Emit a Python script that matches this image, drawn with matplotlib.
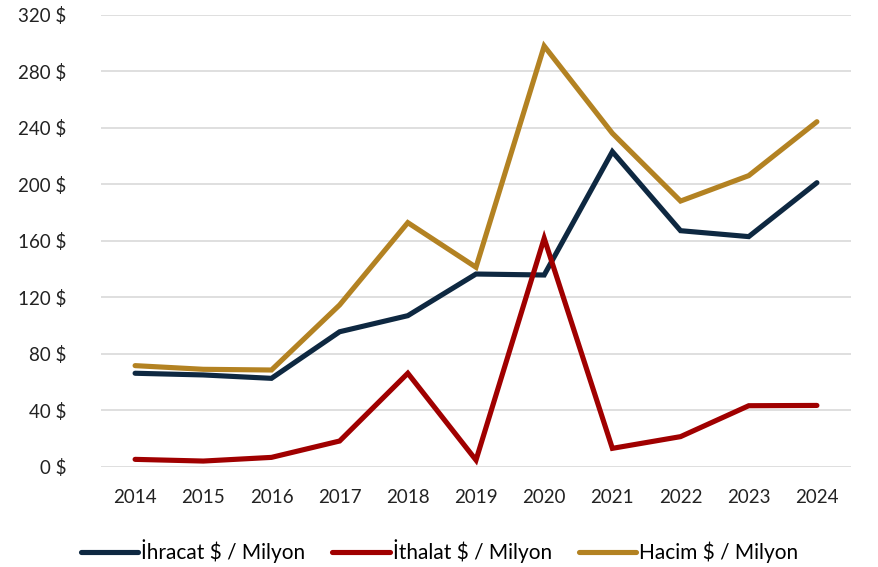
import matplotlib.pyplot as plt
from matplotlib.ticker import FuncFormatter

plt.rcParams['font.family'] = ['Lato', 'DejaVu Sans']

years = ['2014', '2015', '2016', '2017', '2018', '2019', '2020', '2021', '2022', '2023', '2024']
ihracat = [66.2, 65.0, 62.6, 95.6, 107.0, 136.5, 135.8, 223.2, 167.2, 163.0, 201.2]
ithalat = [5.2, 4.0, 6.6, 18.2, 66.2, 4.7, 161.8, 13.0, 21.3, 43.2, 43.4]
hacim = [71.6, 69.0, 68.5, 114.6, 172.9, 141.3, 298.0, 236.2, 188.2, 206.2, 244.4]

series = [
    ('İhracat $ / Milyon', ihracat, '#0e2841'),
    ('İthalat $ / Milyon', ithalat, '#a00000'),
    ('Hacim $ / Milyon', hacim, '#b38222'),
]

fig = plt.figure(figsize=(8.79, 5.67), dpi=100)
ax = fig.add_axes([101 / 879, 1 - 466.7 / 567, 750 / 879, 451.7 / 567])

x = range(len(years))
for label, vals, color in series:
    ax.plot(x, vals, color=color, lw=3.7, label=label, solid_capstyle='round', solid_joinstyle='miter')

ax.set_xlim(-0.5, len(years) - 0.5)
ax.set_ylim(0, 320)
ax.set_yticks(range(0, 321, 40))
ax.yaxis.set_major_formatter(FuncFormatter(lambda v, p: f'{int(v)} $'))
ax.set_xticks(list(x))
ax.set_xticklabels(years)
ax.grid(axis='y', color='#d9d9d9', lw=1.2)
ax.set_axisbelow(True)
for s in ax.spines.values():
    s.set_visible(False)
ax.tick_params(length=0, labelsize=13.5, colors='#222222')
ax.tick_params(axis='y', pad=25)
ax.tick_params(axis='x', pad=16)

fig.legend(loc='center', bbox_to_anchor=(0.5, 1 - 551 / 567), ncol=3, frameon=False,
           fontsize=15, handlelength=2.75, handletextpad=0.15, columnspacing=1.3)

fig.savefig('out.png', dpi=100)
